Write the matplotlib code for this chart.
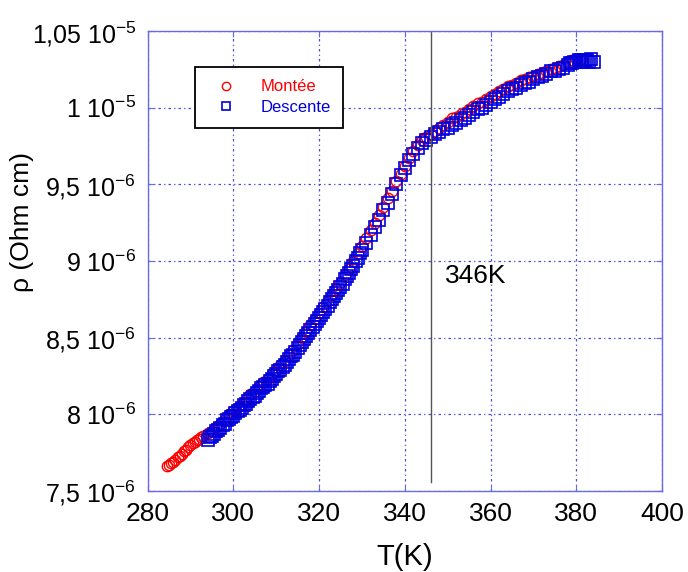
import matplotlib
matplotlib.use("Agg")
import matplotlib.pyplot as plt

plt.rcParams['font.family'] = ['Liberation Sans', 'DejaVu Sans']
plt.rcParams['mathtext.fontset'] = 'custom'
plt.rcParams['mathtext.rm'] = 'Liberation Sans'

# //- data (rho in 1e-6 Ohm cm)
t_montee = [284.5, 285, 285.5, 286, 286.5, 287, 287.5, 288, 288.5, 289, 289.5,
            290, 290.5, 291, 291.5, 292, 292.5, 293, 294, 295, 296, 297, 298,
            299, 300, 301, 302, 303, 304, 305, 306, 307, 308, 309, 310, 311,
            312, 313, 314, 315, 316, 317, 318, 319, 320, 321, 322, 323, 324,
            325, 326, 327, 328, 329, 330, 331, 332, 333, 334, 335, 336, 337,
            338, 339, 340, 341, 342, 343, 344, 345, 346, 347, 348, 349, 350,
            351, 352, 353, 354, 355, 356, 357, 358, 359, 360, 361, 362, 363,
            364, 365, 366, 367, 368, 369, 370, 371, 372, 373, 374, 375, 376,
            377, 378, 379, 380, 381]
rho_montee = [7.66, 7.67, 7.68, 7.69, 7.70, 7.72, 7.73, 7.74, 7.76, 7.77, 7.79,
              7.80, 7.81, 7.82, 7.83, 7.84, 7.85, 7.86, 7.88, 7.89, 7.92, 7.94,
              7.97, 8.00, 8.02, 8.05, 8.07, 8.10, 8.13, 8.15, 8.18, 8.21, 8.23,
              8.26, 8.29, 8.32, 8.35, 8.39, 8.42, 8.46, 8.50, 8.54, 8.58, 8.62,
              8.66, 8.70, 8.74, 8.78, 8.82, 8.86, 8.91, 8.95, 9.00, 9.05, 9.10,
              9.15, 9.20, 9.25, 9.30, 9.35, 9.41, 9.46, 9.52, 9.57, 9.62, 9.67,
              9.72, 9.76, 9.79, 9.81, 9.83, 9.85, 9.87, 9.89, 9.91, 9.93, 9.94,
              9.96, 9.97, 9.99, 10.01, 10.03, 10.04, 10.06, 10.08, 10.09, 10.11,
              10.12, 10.14, 10.15, 10.16, 10.18, 10.19, 10.20, 10.21, 10.22,
              10.23, 10.24, 10.25, 10.26, 10.27, 10.28, 10.30, 10.31, 10.32,
              10.32]

t_descente = [294.0, 294.5, 295.0, 295.5, 296.0, 296.5, 297.0, 297.5, 298.0,
              298.5, 299.0, 299.5, 300.0, 300.5, 301.0, 301.5, 302.0, 302.5,
              303.0, 303.5, 304.0, 304.5, 305.0, 305.5, 306.0, 306.5, 307.0,
              307.5, 308.0, 308.5, 309.0, 309.5, 310.0, 310.5, 311.0, 311.5,
              312.0, 312.5, 313.0, 313.5, 314.0, 314.5, 315.0, 315.5, 316.0,
              316.5, 317.0, 317.5, 318.0, 318.5, 319.0, 319.5, 320.0, 320.5,
              321.0, 321.5, 322.0, 322.5, 323.0, 323.5, 324.0, 324.5, 325.0,
              325.5, 326.0, 326.5, 327.0, 327.5, 328.0, 328.5, 329.0, 329.5,
              330.0, 331, 332, 333, 334, 335, 336, 337, 338, 339, 340, 341, 342,
              343, 344, 345, 346, 347, 348, 349, 350, 351, 352, 353, 354, 355,
              356, 357, 358, 359, 360, 361, 362, 363, 364, 365, 366, 367, 368,
              369, 370, 371, 372, 373, 374, 375, 376, 377, 378, 378.5, 379,
              379.5, 380, 380.5, 381, 381.5, 382, 382.5, 383, 383.5, 384]
rho_descente = [7.83, 7.85, 7.86, 7.87, 7.89, 7.90, 7.91, 7.93, 7.94, 7.96,
                7.97, 7.98, 7.99, 8.01, 8.02, 8.03, 8.04, 8.06, 8.07, 8.09,
                8.10, 8.11, 8.12, 8.14, 8.15, 8.17, 8.18, 8.19, 8.20, 8.22,
                8.23, 8.25, 8.26, 8.28, 8.29, 8.31, 8.32, 8.34, 8.36, 8.38,
                8.39, 8.41, 8.43, 8.45, 8.47, 8.49, 8.51, 8.53, 8.55, 8.57,
                8.59, 8.61, 8.63, 8.65, 8.67, 8.69, 8.71, 8.73, 8.75, 8.77,
                8.79, 8.81, 8.83, 8.85, 8.88, 8.90, 8.92, 8.95, 8.97, 9.00,
                9.02, 9.05, 9.07, 9.12, 9.17, 9.22, 9.27, 9.33, 9.38, 9.44,
                9.50, 9.56, 9.61, 9.66, 9.70, 9.74, 9.77, 9.79, 9.81, 9.83,
                9.84, 9.86, 9.87, 9.89, 9.90, 9.92, 9.93, 9.95, 9.97, 9.99,
                10.00, 10.02, 10.04, 10.06, 10.07, 10.09, 10.11, 10.12, 10.13,
                10.15, 10.16, 10.17, 10.19, 10.20, 10.21, 10.22, 10.24, 10.24,
                10.25, 10.26, 10.28, 10.29, 10.29, 10.30, 10.30, 10.31, 10.31,
                10.30, 10.31, 10.31, 10.30, 10.32, 10.30]

x_ticks = [280, 300, 320, 340, 360, 380, 400]
y_ticks = [7.5, 8.0, 8.5, 9.0, 9.5, 10.0, 10.5]
y_ticklabels = [r'7,5 10$^{\mathregular{-6}}$', r'8 10$^{\mathregular{-6}}$',
                r'8,5 10$^{\mathregular{-6}}$', r'9 10$^{\mathregular{-6}}$',
                r'9,5 10$^{\mathregular{-6}}$', r'1 10$^{\mathregular{-5}}$',
                r'1,05 10$^{\mathregular{-5}}$']
t_transition = 346

# //- figure
fig = plt.figure(figsize=(6.88, 5.72), dpi=100)
ax = fig.add_axes([0.2144, 0.1416, 0.748, 0.804])

ax.plot(t_montee, [r * 1e-6 for r in rho_montee], 'o', ls='none', ms=7.5,
        mfc='none', mec='red', mew=1.0, label='Montée')
ax.plot(t_descente, [r * 1e-6 for r in rho_descente], 's', ls='none', ms=8,
        mfc='none', mec='#0000dd', mew=1.2, label='Descente')

ax.plot([t_transition, t_transition], [7.56e-6, 10.5e-6], color='#555555', lw=1)
ax.text(349.4, 8.9e-6, '346K', fontsize=19, va='center', ha='left')

ax.set_xlim(280, 400)
ax.set_ylim(7.5e-6, 10.5e-6)
ax.set_xticks(x_ticks)
ax.set_yticks([v * 1e-6 for v in y_ticks])
ax.set_yticklabels(y_ticklabels)

spine_col = '#6a6ae6'
for s in ax.spines.values():
    s.set_color(spine_col)
    s.set_linewidth(1.0)
ax.tick_params(direction='in', length=4, colors=spine_col, labelsize=18,
               labelcolor='black', top=True, right=True, pad=8)
ax.tick_params(axis='x', labelsize=19)
ax.grid(True, color='#4a4ae0', lw=0.9, ls=(0, (2, 2.5, 1, 2.5)))

ax.set_xlabel('T(K)', fontsize=21)
ax.xaxis.set_label_coords(0.5, -0.112)
ax.set_ylabel('ρ (Ohm cm)', fontsize=19)
ax.yaxis.set_label_coords(-0.22, 0.585)

leg = ax.legend(loc='upper left', bbox_to_anchor=(0.092, 0.922), fontsize=12,
                fancybox=False, framealpha=1, edgecolor='black',
                borderaxespad=0, borderpad=0.75, handletextpad=1.0,
                labelspacing=0.35, handlelength=2.2, markerscale=0.8)
leg.get_frame().set_linewidth(1.3)
for txt, col in zip(leg.get_texts(), ['red', '#0000dd']):
    txt.set_color(col)

fig.savefig('out.png', dpi=100)
